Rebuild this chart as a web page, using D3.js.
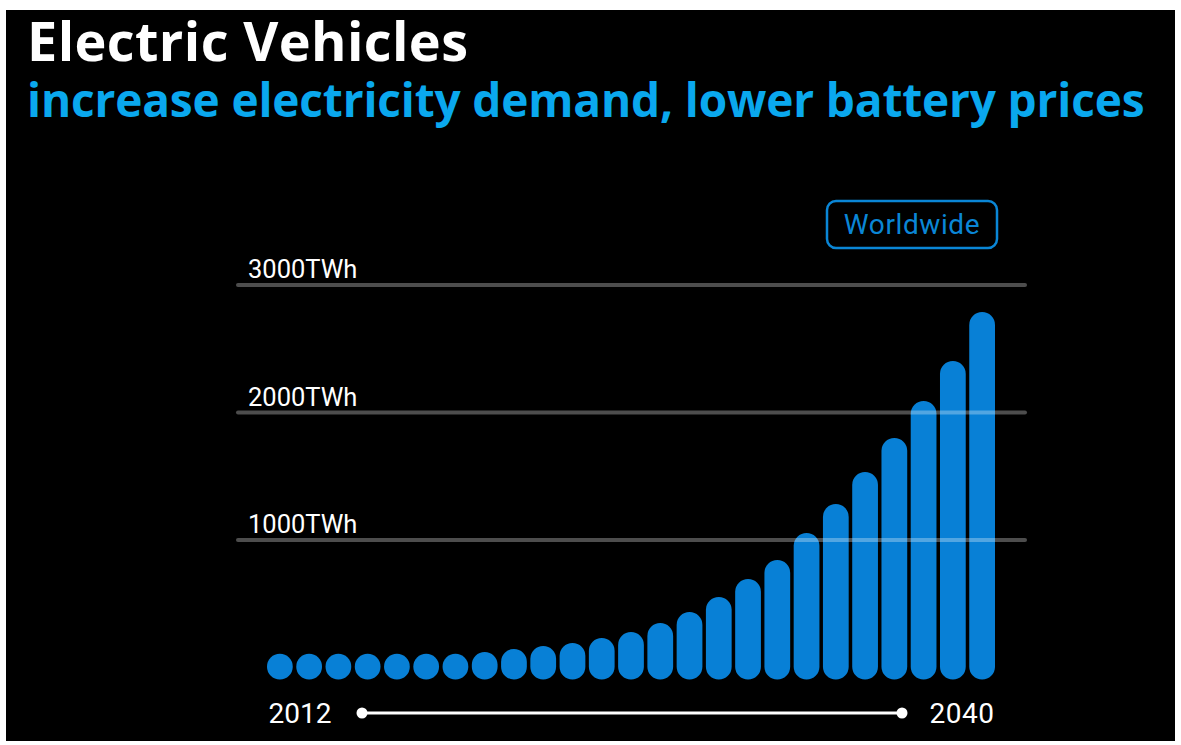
<!DOCTYPE html>
<html>
<head>
<meta charset="utf-8">
<script src="https://cdn.jsdelivr.net/npm/d3@7"></script>
<style>
  html, body { margin: 0; padding: 0; background: #fff; }
  svg { display: block; }
</style>
</head>
<body>
<svg id="chart" width="1181" height="745"></svg>
<script>
// Electricity demand from electric vehicles, worldwide (TWh per period)
const periods = ["p01","p02","p03","p04","p05","p06","p07","p08","p09","p10","p11","p12","p13",
                 "p14","p15","p16","p17","p18","p19","p20","p21","p22","p23","p24","p25"];
const demandTWh = [20, 30, 40, 50, 65, 80, 100, 122, 145, 169, 192, 231, 278,
                   349, 435, 553, 694, 843, 1055, 1282, 1533, 1800, 2090, 2404, 2788];
const gridValues = [1000, 2000, 3000];
const gridLabels = ["1000TWh", "2000TWh", "3000TWh"];
const timelineLabels = ["2012", "2040"];

const svg = d3.select("#chart");

// dark panel
svg.append("rect").attr("x", 6).attr("y", 10).attr("width", 1169).attr("height", 731).attr("fill", "#000");

// headline
svg.append("text").attr("x", 27).attr("y", 61)
  .attr("font-family", "'Open Sans', sans-serif").attr("font-weight", 700)
  .attr("font-size", 54).attr("fill", "#fff").attr("letter-spacing", 0.4)
  .text("Electric Vehicles");
svg.append("text").attr("x", 27).attr("y", 117)
  .attr("font-family", "'Open Sans', sans-serif").attr("font-weight", 700)
  .attr("font-size", 46).attr("fill", "#0aa8ee").attr("letter-spacing", -0.15)
  .text("increase electricity demand, lower battery prices");

// scales
const x = d3.scaleBand().domain(periods).range([267, 995]).paddingInner(0.12).paddingOuter(0);
const y = d3.scaleLinear().domain([0, 3000]).range([667.5, 285]);
const barW = x.bandwidth();
const barBottom = y(0) + 12;

// bars: rounded capsules, never shorter than a circle
const g = svg.append("g");
g.selectAll("rect.bar").data(demandTWh).join("rect")
  .attr("class", "bar")
  .attr("x", (d, i) => x(periods[i]))
  .attr("width", barW)
  .attr("y", d => Math.min(y(d), barBottom - barW))
  .attr("height", d => barBottom - Math.min(y(d), barBottom - barW))
  .attr("rx", barW / 2).attr("ry", barW / 2)
  .attr("fill", "#0880d6");

// gridlines drawn over the bars
const grid = svg.append("g");
grid.selectAll("line").data(gridValues).join("line")
  .attr("x1", 238).attr("x2", 1025)
  .attr("y1", d => y(d)).attr("y2", d => y(d))
  .attr("stroke", "#fff").attr("stroke-opacity", 0.3)
  .attr("stroke-width", 4).attr("stroke-linecap", "round");
grid.selectAll("text").data(gridValues).join("text")
  .attr("x", 248).attr("y", d => y(d) - 7)
  .attr("font-family", "Roboto, sans-serif").attr("font-size", 25.5)
  .attr("fill", "#fff").attr("letter-spacing", 0)
  .text((d, i) => gridLabels[i]);

// region badge
svg.append("rect").attr("x", 827).attr("y", 201).attr("width", 170).attr("height", 47)
  .attr("rx", 9).attr("fill", "none").attr("stroke", "#0a86d6").attr("stroke-width", 2.5);
svg.append("text").attr("x", 912).attr("y", 234).attr("text-anchor", "middle")
  .attr("font-family", "Roboto, sans-serif").attr("font-size", 28)
  .attr("fill", "#0a86d6").attr("letter-spacing", 0.6).text("Worldwide");

// timeline
const tl = svg.append("g");
tl.append("line").attr("x1", 362).attr("x2", 902).attr("y1", 713).attr("y2", 713)
  .attr("stroke", "#fff").attr("stroke-width", 3);
tl.selectAll("circle").data([362, 902]).join("circle")
  .attr("cx", d => d).attr("cy", 713).attr("r", 5.5).attr("fill", "#fff");
tl.append("text").attr("x", 300).attr("y", 723).attr("text-anchor", "middle")
  .attr("font-family", "Roboto, sans-serif").attr("font-size", 28).attr("fill", "#fff")
  .text(timelineLabels[0]);
tl.append("text").attr("x", 962).attr("y", 723).attr("text-anchor", "middle")
  .attr("font-family", "Roboto, sans-serif").attr("font-size", 28).attr("fill", "#fff")
  .attr("letter-spacing", 0.5).text(timelineLabels[1]);
</script>
</body>
</html>
